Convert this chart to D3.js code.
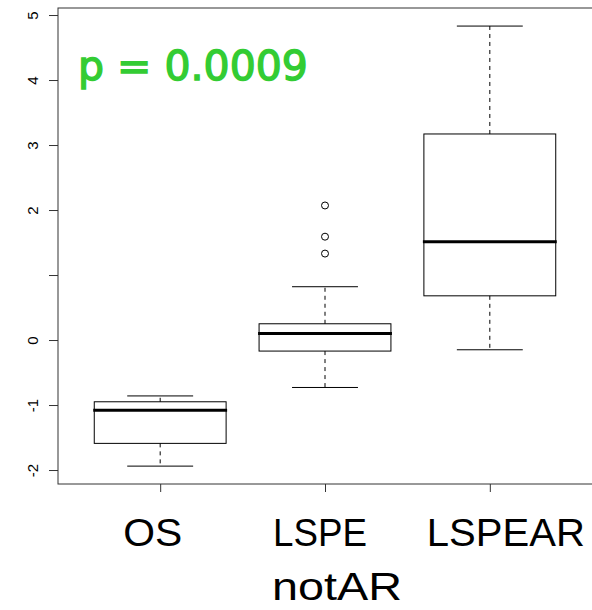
<!DOCTYPE html>
<html>
<head>
<meta charset="utf-8">
<script src="https://cdn.jsdelivr.net/npm/d3@7"></script>
<style>
  body { margin: 0; background: #fff; }
  svg { display: block; }
</style>
</head>
<body>
<div id="chart-area"></div>
<script>
// box statistics
const groups     = ['OS', 'LSPE\nnotAR', 'LSPEAR'];
const whiskerLo  = [-1.94, -0.73, -0.15];
const boxLo      = [-1.59, -0.17, 0.68];
const medians    = [-1.08, 0.10, 1.51];
const boxHi      = [-0.95, 0.25, 3.17];
const whiskerHi  = [-0.86, 0.82, 4.83];
const outliers   = [[], [1.33, 1.59, 2.07], []];

const yTicks      = [-2, -1, 0, 1, 2, 3, 4, 5];
const yTickLabels = ['-2', '-1', '0', '', '2', '3', '4', '5'];
const pLabel = 'p = 0.0009';

// label line layout (start offset from tick, rendered width) - the original font is wide
const labelLayout = {
  'OS':     {dx: -37, w: 59},
  'LSPE':   {dx: -52, w: 94},
  'notAR':  {dx: -53, w: 130},
  'LSPEAR': {dx: -63, w: 158}
};

const width = 592, height = 610;
const plotL = 58, plotT = 8, plotR = 593, plotB = 484;

const svg = d3.select('#chart-area').append('svg')
    .attr('width', width)
    .attr('height', height);

const x = d3.scalePoint()
    .domain(groups)
    .range([plotL, plotR - 1])
    .padding(0.62);

const y = d3.scaleLinear()
    .domain([-2.215, 5.108])
    .range([plotB, plotT]);

const boxW = x.step() * 0.8;
const capW = boxW * 0.5;

// frame
svg.append('rect')
    .attr('x', plotL).attr('y', plotT)
    .attr('width', plotR - plotL).attr('height', plotB - plotT)
    .attr('fill', 'none')
    .attr('stroke', '#333')
    .attr('stroke-width', 1);

// y axis
const yAxis = svg.append('g')
    .attr('transform', `translate(${plotL},0)`)
    .call(d3.axisLeft(y).tickValues(yTicks).tickSize(9).tickFormat((d, i) => yTickLabels[i]));
yAxis.select('.domain').remove();
yAxis.selectAll('line').attr('stroke', '#333');
yAxis.selectAll('text')
    .attr('x', 0).attr('y', 0).attr('dy', 0)
    .attr('transform', 'translate(-20,0) rotate(-90)')
    .attr('text-anchor', 'middle')
    .style('font-family', 'Liberation Sans, Arial, sans-serif')
    .style('font-size', '15px')
    .attr('fill', '#000');

// x axis ticks
const xAxis = svg.append('g')
    .attr('transform', `translate(0,${plotB})`)
    .call(d3.axisBottom(x).tickSize(8).tickFormat(''));
xAxis.select('.domain').remove();
xAxis.selectAll('line').attr('stroke', '#333');

// x labels (may have two lines)
svg.append('g').selectAll('text')
    .data(groups.flatMap(g => g.split('\n').map((t, i) => ({t, g, i}))))
    .join('text')
    .attr('x', d => x(d.g) + labelLayout[d.t].dx)
    .attr('y', d => 546 + d.i * 54)
    .attr('textLength', d => labelLayout[d.t].w)
    .attr('lengthAdjust', 'spacingAndGlyphs')
    .style('font-family', 'Liberation Sans, Arial, sans-serif')
    .style('font-size', '39px')
    .attr('fill', '#000')
    .text(d => d.t);

// boxes
const box = svg.append('g').selectAll('g')
    .data(groups.map((g, i) => ({g, i})))
    .join('g');

box.append('line')
    .attr('x1', d => x(d.g)).attr('x2', d => x(d.g))
    .attr('y1', d => y(boxHi[d.i])).attr('y2', d => y(whiskerHi[d.i]))
    .attr('stroke', '#000').attr('stroke-dasharray', '4,4');
box.append('line')
    .attr('x1', d => x(d.g)).attr('x2', d => x(d.g))
    .attr('y1', d => y(boxLo[d.i])).attr('y2', d => y(whiskerLo[d.i]))
    .attr('stroke', '#000').attr('stroke-dasharray', '4,4');

[whiskerHi, whiskerLo].forEach(arr => {
  box.append('line')
      .attr('x1', d => x(d.g) - capW / 2).attr('x2', d => x(d.g) + capW / 2)
      .attr('y1', d => y(arr[d.i])).attr('y2', d => y(arr[d.i]))
      .attr('stroke', '#000');
});

box.append('rect')
    .attr('x', d => x(d.g) - boxW / 2)
    .attr('width', boxW)
    .attr('y', d => y(boxHi[d.i]))
    .attr('height', d => y(boxLo[d.i]) - y(boxHi[d.i]))
    .attr('fill', 'none')
    .attr('stroke', '#000');

box.append('line')
    .attr('x1', d => x(d.g) - boxW / 2 - 1).attr('x2', d => x(d.g) + boxW / 2 + 1)
    .attr('y1', d => y(medians[d.i])).attr('y2', d => y(medians[d.i]))
    .attr('stroke', '#000').attr('stroke-width', 3);

box.selectAll('circle')
    .data(d => outliers[d.i].map(v => ({v, g: d.g})))
    .join('circle')
    .attr('cx', d => x(d.g))
    .attr('cy', d => y(d.v))
    .attr('r', 3.5)
    .attr('fill', 'none')
    .attr('stroke', '#000');

// p value
svg.append('text')
    .attr('x', 78)
    .attr('y', 80)
    .style('font-family', 'DejaVu Sans, sans-serif')
    .style('font-size', '41px')
    .attr('fill', '#33cc33')
    .attr('stroke', '#33cc33')
    .attr('stroke-width', 1.4)
    .text(pLabel);
</script>
</body>
</html>
